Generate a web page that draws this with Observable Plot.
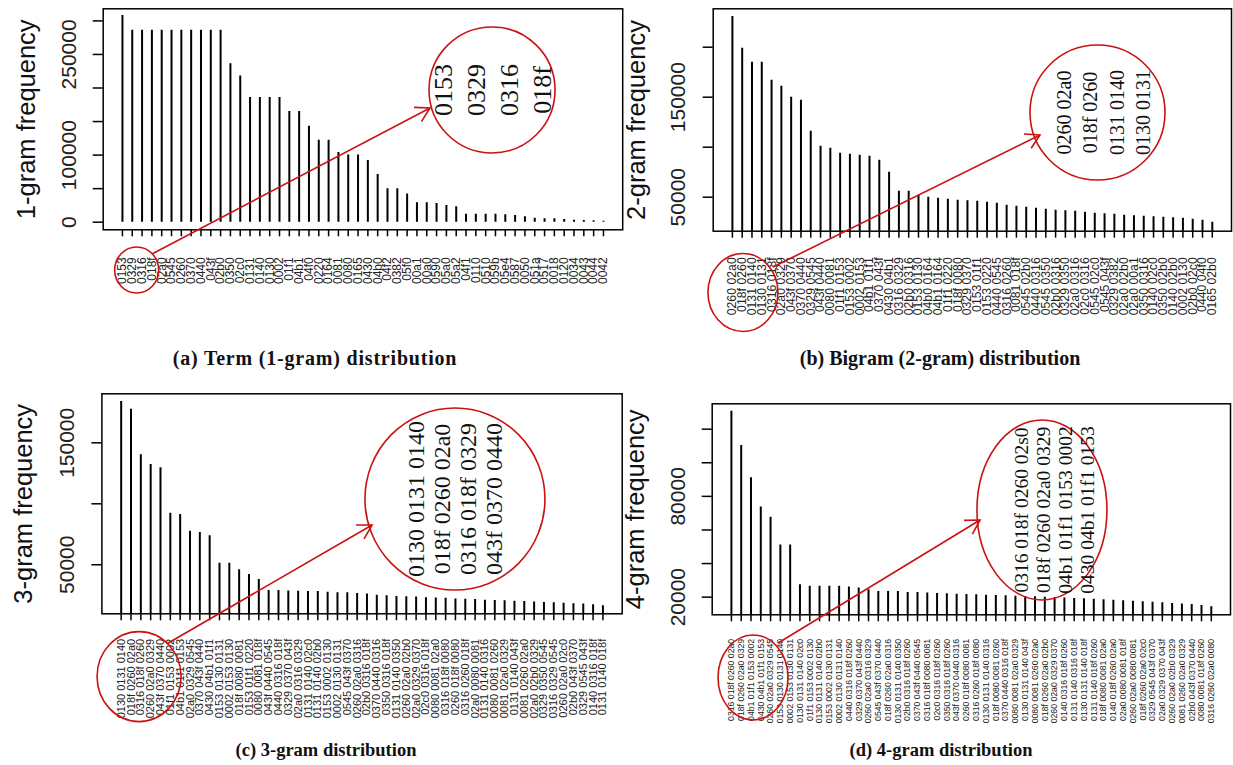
<!DOCTYPE html>
<html><head><meta charset="utf-8">
<script src="https://cdn.jsdelivr.net/npm/d3@7"></script>
<script src="https://cdn.jsdelivr.net/npm/@observablehq/plot@0.6"></script>
<style>
body{margin:0;background:#fff;width:1233px;height:765px;position:relative;overflow:hidden;font-family:"Liberation Sans",Arial,sans-serif}
.panel{position:absolute}
.cap{position:absolute;font-family:"Liberation Serif",serif;font-weight:bold;line-height:20px;transform:translateX(-50%);white-space:nowrap;color:#111}
</style></head><body>
<script>
// ---------- data ----------
const labels1 = ["0153","0329","0316","018f","02a0","0545","0260","0370","0440","043f","02b0","0350","02c0","0131","0140","0130","0002","01f1","04b1","04f0","0220","0164","0081","0080","0165","0430","04b0","04f2","0382","05f0","00a1","00a0","0590","05a0","05a2","04f1","0110","0510","059b","05e4","0587","0050","051a","0517","0018","0120","0034","0043","0044","0042"];
const values1 = [308000,286000,286000,286000,286000,286000,286000,286000,286000,286000,286000,236000,218000,186000,186000,186000,186000,165000,165000,143000,122000,122000,104000,100000,100000,92000,71000,50000,50000,42000,29000,29000,28000,25000,23000,12000,12000,12000,12000,11000,10000,8000,6000,5000,5000,4000,3000,2500,2000,1500];

const labels2 = ["0260 02a0","018f 0260","0131 0140","0130 0131","0316 018f","02a0 0329","043f 0370","0370 0440","0329 0545","043f 0440","0080 0081","01f1 0153","0153 0002","0002 0153","04b1 01f1","0370 043f","0430 04b1","0316 0329","02b0 0316","0153 0130","04b0 0164","04b1 0164","01f1 0220","018f 0080","0329 0370","0153 01f1","0153 0220","0440 0545","0316 0260","0081 018f","0545 02b0","0440 0316","0545 0350","02b0 0316","0329 0350","02a0 0316","02c0 0316","0545 02c0","0545 043f","0329 0382","02a0 02b0","02a0 00a1","0350 0316","0140 02c0","0350 02b0","0140 02b0","0002 0130","02b0 02c0","0440 04f0","0165 02b0"];
const values2 = [230700,199000,185000,185000,167000,161000,150000,147000,116000,101000,99000,94000,93000,92000,91000,87000,75000,56000,56000,52000,50000,49000,48000,47000,46500,46000,45000,44000,42000,41000,40000,39000,38000,37000,36500,36000,35000,34000,33500,33000,32000,31500,31000,30500,30000,29500,29000,28000,27000,25000];

const labels3 = ["0130 0131 0140","018f 0260 02a0","0316 018f 0260","0260 02a0 0329","043f 0370 0440","01f1 0153 0002","04b1 01f1 0153","02a0 0329 0545","0370 043f 0440","0430 04b1 01f1","0153 0130 0131","0002 0153 0130","018f 0080 0081","0153 01f1 0220","0080 0081 018f","043f 0440 0545","0440 0316 018f","0329 0370 043f","02a0 0316 0329","0131 0140 02c0","0131 0140 02b0","0153 0002 0130","0002 0130 0131","0545 043f 0370","0260 02a0 0316","02b0 0316 018f","0370 0440 0316","0350 0316 018f","0131 0140 0350","0260 02a0 02b0","02a0 0329 0370","02c0 0316 018f","0080 0081 02a0","0316 018f 0080","0260 018f 0080","0316 0260 018f","02a0 0080 0081","0131 0140 0316","0080 0081 0260","0081 02a0 0329","0131 0140 043f","0081 0260 02a0","02a0 02b0 0329","0329 0350 0545","0316 0329 0545","0260 02a0 02c0","02b0 043f 0370","0329 0545 043f","0140 0316 018f","0131 0140 018f"];
const values3 = [183900,177500,140200,132200,129500,92300,91200,77500,76400,73800,51300,51300,45900,42000,38000,29000,29000,28500,28200,28000,28000,27500,27000,27000,26500,26000,25000,24500,24000,23800,23500,23000,22800,22500,22000,21800,21500,21000,20800,20500,20000,19800,19500,19000,18800,18500,18000,17800,17200,16500];

const labels4 = ["0316 018f 0260 02a0","018f 0260 02a0 0329","04b1 01f1 0153 0002","0430 04b1 01f1 0153","0260 02a0 0329 0545","0153 0130 0131 0140","0002 0153 0130 0131","0130 0131 0140 02c0","01f1 0153 0002 0130","0130 0131 0140 02b0","0153 0002 0130 0131","0002 0130 0131 0140","0440 0316 018f 0260","0329 0370 043f 0440","0260 02a0 0316 0329","0545 043f 0370 0440","018f 0260 02a0 0316","0130 0131 0140 0350","02b0 0316 018f 0260","0370 043f 0440 0545","0316 018f 0080 0081","02c0 0316 018f 0260","0350 0316 018f 0260","043f 0370 0440 0316","0260 018f 0080 0081","0316 0260 018f 0080","0130 0131 0140 0316","018f 0080 0081 0260","0370 0440 0316 018f","0080 0081 02a0 0329","0130 0131 0140 043f","0080 0081 0260 02a0","018f 0260 02a0 02b0","0260 02a0 0329 0370","0140 0316 018f 0260","0131 0140 0316 018f","0130 0131 0140 018f","0131 0140 018f 0260","018f 0080 0081 02a0","0140 018f 0260 02a0","02a0 0080 0081 018f","0260 02a0 0080 0081","018f 0260 02a0 02c0","0329 0545 043f 0370","02a0 0329 0370 043f","0260 02a0 02b0 0329","0081 0260 02a0 0329","02b0 043f 0370 0440","0080 0081 018f 0260","0316 0260 02a0 0080"];
const values4 = [130700,110300,91100,73600,67600,51000,51000,27400,26500,26500,26500,26500,26000,25400,24400,23400,23400,23400,22800,22800,22500,22200,22000,21800,21600,21400,21200,21000,20800,20600,20400,20200,20000,19800,19500,19200,19000,18700,18400,18100,17800,17500,17200,16900,16600,16300,16000,15600,15000,14300];

const yTicks1 = [0,50000,100000,150000,200000,250000,300000];
const yTickText1 = ["0","","100000","","","250000",""];
const yTicks2 = [50000,100000,150000,200000];
const yTickText2 = ["50000","","150000",""];
const yTicks3 = [50000,100000,150000];
const yTickText3 = ["50000","","150000"];
const yTicks4 = [20000,40000,60000,80000,100000,120000];
const yTickText4 = ["20000","","","80000","",""];

const titles = ["1-gram frequency","2-gram frequency","3-gram frequency","4-gram frequency"];
const captions = ["(a) Term (1-gram) distribution","(b) Bigram (2-gram) distribution","(c) 3-gram distribution","(d) 4-gram distribution"];
const zoomText1 = ["0153","0329","0316","018f"];
const zoomText2 = ["0260 02a0","018f 0260","0131 0140","0130 0131"];
const zoomText3 = ["0130 0131 0140","018f 0260 02a0","0316 018f 0329","043f 0370 0440"];
const zoomText4 = ["0316 018f 0260 02s0","018f 0260 02a0 0329","04b1 01f1 0153 0002","0430 04b1 01f1 0153"];

// ---------- layout ----------
const RED = "#cc1111";
const panels = [
  {labels: labels1, values: values1, yTicks: yTicks1, yTickText: yTickText1, title: titles[0], caption: captions[0], zoomText: zoomText1,
   left: 0, top: 0, width: 625, height: 340, mL: 102.7, mR: 2.8, mT: 8.3, mB: 110.7, yDomain: [-11330, 318030],
   xLabOff: 27.5, xFont: 12, yLabOff: 33.7, titleOff: 76.7, capX: 315, capY: 348, capFont: 20, capLs: 0.8,
   ann: {small: {x: 2.5, y: -72000, rx: 22, ry: 23}, big: {x: 38.7, y: 196300, rx: 63, ry: 63},
         from: {x: 4.06, y: -48200}, to: {x: 32.38, y: 169400}, font: 26, gap: 33, tdx: 0}},
  {labels: labels2, values: values2, yTicks: yTicks2, yTickText: yTickText2, title: titles[1], caption: captions[1], zoomText: zoomText2,
   left: 612, top: 0, width: 621, height: 340, mL: 100.7, mR: 2, mT: 8.3, mB: 109.3, yDomain: [16000, 238400],
   xLabOff: 26, xFont: 12.3, yLabOff: 34.7, titleOff: 76.7, capX: 940, capY: 348, capFont: 20, capLs: 0,
   ann: {small: {x: 2.13, y: -45800, rx: 35, ry: 39}, big: {x: 38.33, y: 134200, rx: 67.5, ry: 67.5},
         from: {x: 5.2, y: -20300}, to: {x: 32.46, y: 111700}, font: 20, gap: 26.5, tdx: 6}},
  {labels: labels3, values: values3, yTicks: yTicks3, yTickText: yTickText3, title: titles[2], caption: captions[2], zoomText: zoomText3,
   left: 0, top: 384, width: 625, height: 381, mL: 101.4, mR: 3.3, mT: 9.3, mB: 151.7, yDomain: [9800, 190200],
   xLabOff: 25, xFont: 11, yLabOff: 34.7, titleOff: 78.4, capX: 326, capY: 740, capFont: 18.5, capLs: 0,
   ann: {small: {x: 2.87, y: -42100, rx: 42, ry: 45}, big: {x: 35.0, y: 103500, rx: 90, ry: 91},
         from: {x: 5.8, y: -14750}, to: {x: 26.57, y: 82200}, font: 24, gap: 26, tdx: 0}},
  {labels: labels4, values: values4, yTicks: yTicks4, yTickText: yTickText4, title: titles[3], caption: captions[3], zoomText: zoomText4,
   left: 612, top: 384, width: 621, height: 381, mL: 99.7, mR: 3, mT: 19.3, mB: 150.7, yDomain: [9500, 135100],
   xLabOff: 24, xFont: 8.7, yLabOff: 34.2, titleOff: 76.7, capX: 941, capY: 740, capFont: 18.5, capLs: 0,
   ann: {small: {x: 3.26, y: -28100, rx: 35, ry: 42.5}, big: {x: 32.76, y: 71600, rx: 65, ry: 90},
         from: {x: 5.82, y: -7560}, to: {x: 26.44, y: 65650}, font: 19.5, gap: 22, tdx: 12}}
];

function annotation(cfg) {
  return (index, scales) => {
    const sx = scales.x, sy = scales.y, a = cfg.ann;
    const g = d3.create("svg:g");
    const shapes = g.append("g").attr("fill", "none").attr("stroke", RED).attr("stroke-width", 1.6);
    shapes.append("ellipse").attr("cx", sx(a.small.x)).attr("cy", sy(a.small.y)).attr("rx", a.small.rx).attr("ry", a.small.ry);
    shapes.append("ellipse").attr("cx", sx(a.big.x)).attr("cy", sy(a.big.y)).attr("rx", a.big.rx).attr("ry", a.big.ry);
    const x1 = sx(a.from.x), y1 = sy(a.from.y), x2 = sx(a.to.x), y2 = sy(a.to.y);
    const th = Math.atan2(y2 - y1, x2 - x1), L = 16, w = Math.PI / 6;
    shapes.append("path").attr("d",
      `M${x1},${y1}L${x2},${y2}M${x2 - L * Math.cos(th - w)},${y2 - L * Math.sin(th - w)}L${x2},${y2}L${x2 - L * Math.cos(th + w)},${y2 - L * Math.sin(th + w)}`);
    const cx = sx(a.big.x) + a.tdx, cy = sy(a.big.y), m = cfg.zoomText.length;
    cfg.zoomText.forEach((t, k) => {
      const px = cx + (k - (m - 1) / 2) * a.gap;
      g.append("text").attr("transform", `translate(${px},${cy}) rotate(-90)`)
        .attr("text-anchor", "middle").attr("dy", "0.35em")
        .attr("font-family", "'Liberation Serif', serif").attr("font-size", a.font).attr("fill", "#111")
        .text(t);
    });
    return g.node();
  };
}

panels.forEach(cfg => {
  const data = cfg.labels.map((l, k) => ({i: k + 1, label: l, v: cfg.values[k]}));
  const n = data.length, pad = (n - 1) * 0.04;
  const idx = data.map(d => d.i);
  const yLab = cfg.yTicks.map((t, k) => ({t, s: cfg.yTickText[k]}));
  const chart = Plot.plot({
    width: cfg.width, height: cfg.height,
    marginLeft: cfg.mL, marginRight: cfg.mR, marginTop: cfg.mT, marginBottom: cfg.mB,
    style: {background: "transparent", fontFamily: "'Liberation Sans', Arial, sans-serif", overflow: "visible"},
    x: {type: "linear", domain: [1 - pad, n + pad], axis: null},
    y: {type: "linear", domain: cfg.yDomain, axis: null},
    marks: [
      Plot.ruleX(data, {x: "i", y1: 0, y2: "v", stroke: "#000", strokeWidth: 2, clip: true}),
      Plot.frame({stroke: "#000", strokeWidth: 1.5}),
      Plot.axisX(idx, {anchor: "bottom", tickSize: 7, tickFormat: () => "", label: null, stroke: "#000", strokeWidth: 1.5}),
      Plot.axisY(cfg.yTicks, {anchor: "left", tickSize: 10, tickFormat: () => "", label: null, stroke: "#000", strokeWidth: 1.5}),
      Plot.text(data, {x: "i", text: "label", frameAnchor: "bottom", dy: cfg.xLabOff, rotate: -90,
        textAnchor: "end", lineAnchor: "middle", fontSize: cfg.xFont, fill: "#222"}),
      Plot.text(yLab, {y: "t", text: "s", frameAnchor: "left", dx: -cfg.yLabOff, rotate: -90,
        textAnchor: "middle", lineAnchor: "middle", fontSize: 21, fill: "#222"}),
      Plot.text([cfg.title], {frameAnchor: "left", dx: -cfg.titleOff, rotate: -90,
        textAnchor: "middle", lineAnchor: "middle", fontSize: 25.5, fill: "#111"}),
      annotation(cfg)
    ]
  });
  const holder = document.createElement("div");
  holder.className = "panel";
  holder.style.left = cfg.left + "px";
  holder.style.top = cfg.top + "px";
  holder.appendChild(chart);
  document.body.appendChild(holder);
  const cap = document.createElement("div");
  cap.className = "cap";
  cap.style.left = cfg.capX + "px";
  cap.style.top = cfg.capY + "px";
  cap.style.fontSize = cfg.capFont + "px";
  cap.style.letterSpacing = cfg.capLs + "px";
  cap.textContent = cfg.caption;
  document.body.appendChild(cap);
});
</script>
</body></html>
